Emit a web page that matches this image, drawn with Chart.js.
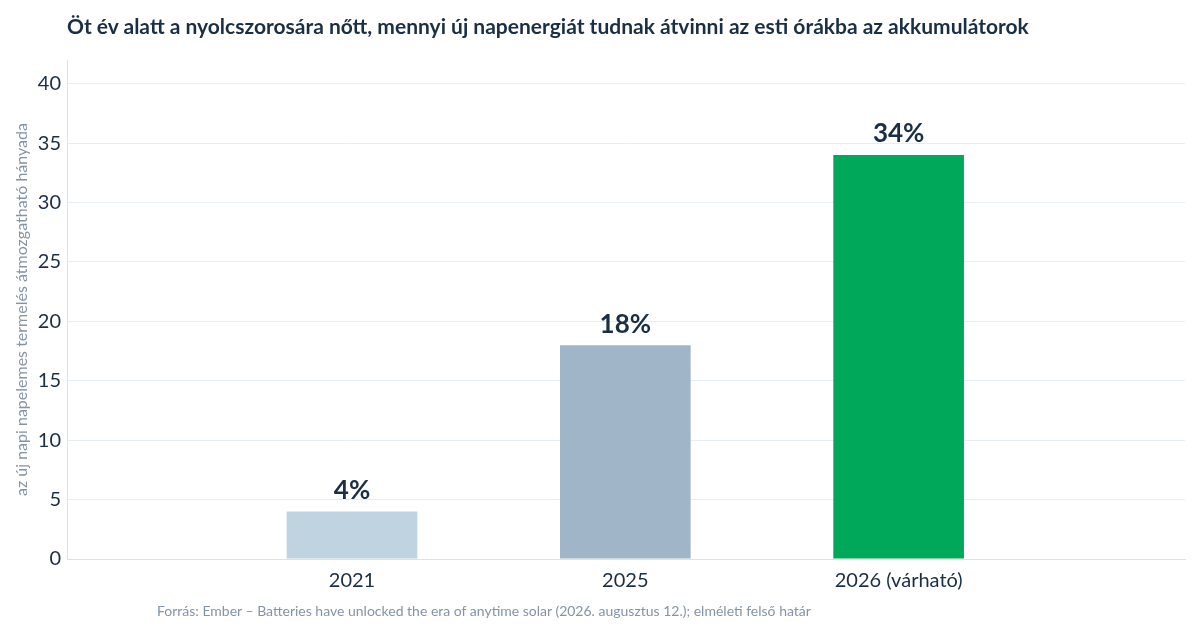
<!DOCTYPE html>
<html><head><meta charset="utf-8">
<script src="https://cdn.jsdelivr.net/npm/chart.js@4"></script>
<style>
body{margin:0;background:#fff;font-family:Lato,sans-serif}
#wrap{position:relative;width:1200px;height:630px}
#t{position:absolute;left:67px;top:13px;font-size:21px;font-weight:bold;color:#1a2e44}
#s{position:absolute;left:157px;top:602px;font-size:14px;color:#8494a6}
canvas{position:absolute;left:0;top:0}
</style></head><body>
<div id="wrap"><canvas id="c" width="1200" height="630"></canvas>
<div id="t">Öt év alatt a nyolcszorosára nőtt, mennyi új napenergiát tudnak átvinni az esti órákba az akkumulátorok</div>
<div id="s">Forrás: Ember – Batteries have unlocked the era of anytime solar (2026. augusztus 12.); elméleti felső határ</div>
</div>
<script>
const categories = ["2021","2025","2026 (várható)"];
const values = [4,18,34];
const labels = ["4%","18%","34%"];
const colors = ["#c0d3e0","#a0b5c7","#00a859"];
const yTicks = [0,5,10,15,20,25,30,35,40];
const valueLabels = {id:'vl',afterDatasetsDraw(ch){
  const ctx=ch.ctx, m=ch.getDatasetMeta(0);
  ctx.save();ctx.font='bold 26px Lato';ctx.fillStyle='#1a2e44';ctx.textAlign='center';ctx.textBaseline='bottom';
  m.data.forEach((b,i)=>ctx.fillText(labels[i],b.x,b.y-8));ctx.restore();}};
new Chart(document.getElementById('c'),{type:'bar',
 data:{datasets:[{data:values.map((v,i)=>({x:i,y:v})),backgroundColor:colors,barPercentage:0.478,categoryPercentage:1}]},
 options:{responsive:false,animation:false,
  layout:{padding:{top:60,bottom:35,right:15}},
  plugins:{legend:{display:false},tooltip:{enabled:false}},
  scales:{
   x:{type:'linear',min:-0.361,max:2.366,afterBuildTicks:s=>{s.ticks=categories.map((c,i)=>({value:i}))},
      grid:{display:false},border:{color:'#d6e4ee'},
      ticks:{callback:v=>categories[v],color:'#1a2e44',font:{family:'Lato',size:20},padding:2}},
   y:{min:0,max:42,afterFit:s=>{s.width=67},afterBuildTicks:s=>{s.ticks=yTicks.map(v=>({value:v}))},
      ticks:{color:'#1a2e44',font:{family:'Lato',size:20},padding:6},
      grid:{color:'#e6edf3',drawTicks:false},border:{color:'#d6e4ee'},
      title:{display:true,text:'az új napi napelemes termelés átmozgatható hányada',color:'#8494a6',font:{family:'Lato',size:16},padding:{top:12,bottom:0}}}
  }},plugins:[valueLabels]});
</script></body></html>
